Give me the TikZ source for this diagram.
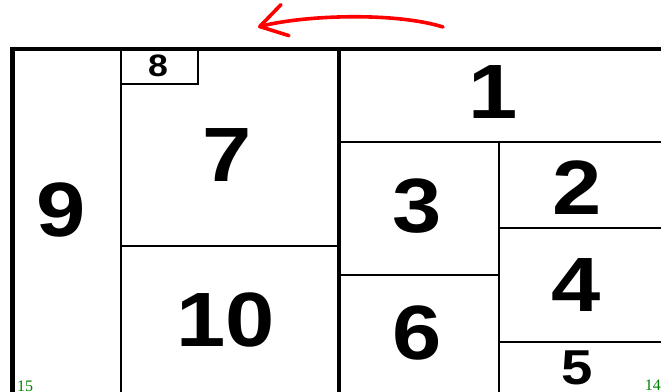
\documentclass[tikz,border=0pt]{standalone}
\usepackage{fontspec}
\usepackage{graphicx}
\usetikzlibrary{arrows.meta}
\newfontfamily\numfont{Liberation Sans}
\newfontfamily\labfont{Liberation Serif}
\definecolor{lblgreen}{RGB}{0,128,0}
\newcommand\widen[1]{\scalebox{1.15}[1]{#1}}
\begin{document}
\begin{tikzpicture}[x=1pt,y=-1pt,
  thickwall/.style={line width=4.8pt},
  thinwall/.style={line width=2.2pt},
  bignum/.style={inner sep=0pt, font={\numfont\bfseries\fontsize{77}{77}\selectfont}},
  midnum/.style={inner sep=0pt, font={\numfont\bfseries\fontsize{49}{49}\selectfont}},
  smallnum/.style={inner sep=0pt, font={\numfont\bfseries\fontsize{31}{31}\selectfont}},
  cornerlbl/.style={inner sep=0pt, text=lblgreen, font={\labfont\fontsize{16}{16}\selectfont}},
  turnarrow/.style={red, line width=3.6pt, line cap=round, -{Straight Barb[length=26pt,width=32pt,round]}}]
\useasboundingbox (0,0) rectangle (661,391);
\clip (0,0) rectangle (661,391);
% thin walls
\draw[thinwall] (121,49) -- (121,400);
\draw[thinwall] (121,246) -- (339,246);
\draw[thinwall] (121,84) -- (198,84) -- (198,49);
\draw[thinwall] (339,142) -- (670,142);
\draw[thinwall] (499,142) -- (499,400);
\draw[thinwall] (339,275) -- (499,275);
\draw[thinwall] (499,228) -- (670,228);
\draw[thinwall] (499,342) -- (670,342);
% thick walls
\draw[thickwall] (10,49) -- (670,49);
\draw[thickwall] (12.5,46.6) -- (12.5,400);
\draw[thickwall] (339,49) -- (339,400);
% numbers
\node[bignum] (n9) at (61,210) {\widen{9}};
\node[bignum] (n7) at (227,155) {\widen{7}};
\node[smallnum] (n8) at (158,66) {\widen{8}};
\node[bignum] (n10) at (226,320) {\widen{10}};
\node[bignum] (n1) at (493,92) {\widen{1}};
\node[bignum] (n3) at (417,206) {\widen{3}};
\node[bignum] (n6) at (417,333) {\widen{6}};
\node[bignum] (n2) at (577,188) {\widen{2}};
\node[bignum] (n4) at (576,285) {\widen{4}};
\node[midnum] (n5) at (577,368) {\widen{5}};
% corner labels
\node[cornerlbl, anchor=north west] (l15) at (17,381) {15};
\node[cornerlbl, anchor=north east] (l14) at (661,380) {14};
% arrow
\coordinate (arrS) at (443,27);
\coordinate (arrE) at (258,27);
\draw[turnarrow] (arrS) .. controls (395,12) and (305,15) .. (arrE);
\end{tikzpicture}
\end{document}
